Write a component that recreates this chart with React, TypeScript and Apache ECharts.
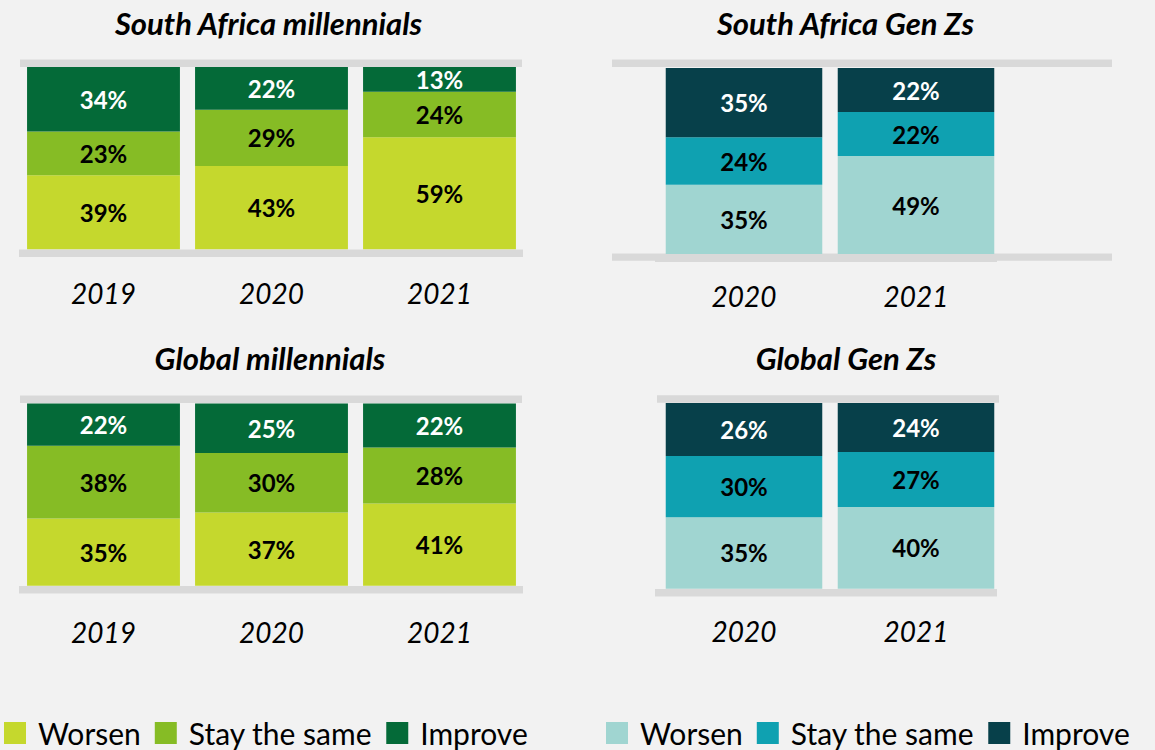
import React, { useEffect, useRef } from "react";
import * as echarts from "echarts";

// ---- Data ----
const YEARS_MILLENNIALS = ["2019", "2020", "2021"];
const YEARS_GENZ = ["2020", "2021"];

const SA_MIL_WORSEN = [39, 43, 59];
const SA_MIL_SAME = [23, 29, 24];
const SA_MIL_IMPROVE = [34, 22, 13];

const SA_GENZ_WORSEN = [35, 49];
const SA_GENZ_SAME = [24, 22];
const SA_GENZ_IMPROVE = [35, 22];

const GL_MIL_WORSEN = [35, 37, 41];
const GL_MIL_SAME = [38, 30, 28];
const GL_MIL_IMPROVE = [22, 25, 22];

const GL_GENZ_WORSEN = [35, 40];
const GL_GENZ_SAME = [30, 27];
const GL_GENZ_IMPROVE = [26, 24];

const SERIES_NAMES = ["Worsen", "Stay the same", "Improve"];
const PANEL_TITLES = [
  "South Africa millennials",
  "South Africa Gen Zs",
  "Global millennials",
  "Global Gen Zs",
];

// ---- Styling ----
const MIL_COLORS = ["#c5d82d", "#86bc25", "#046a38"];
const GENZ_COLORS = ["#a0d5d1", "#0fa1b1", "#07404a"];
const LABEL_COLORS = ["#000000", "#000000", "#ffffff"];
const BAND = "#d9d9d9";
const FONT = "Lato";

export default function App() {
  const ref = useRef<HTMLDivElement>(null);

  useEffect(() => {
    if (!ref.current) return;
    const chart = echarts.init(ref.current, null, { renderer: "svg" });

    const panels = [
      { cats: YEARS_MILLENNIALS, vals: [SA_MIL_WORSEN, SA_MIL_SAME, SA_MIL_IMPROVE], colors: MIL_COLORS },
      { cats: YEARS_GENZ, vals: [SA_GENZ_WORSEN, SA_GENZ_SAME, SA_GENZ_IMPROVE], colors: GENZ_COLORS },
      { cats: YEARS_MILLENNIALS, vals: [GL_MIL_WORSEN, GL_MIL_SAME, GL_MIL_IMPROVE], colors: MIL_COLORS },
      { cats: YEARS_GENZ, vals: [GL_GENZ_WORSEN, GL_GENZ_SAME, GL_GENZ_IMPROVE], colors: GENZ_COLORS },
    ];

    const grids = [
      { left: 19.5, width: 504, top: 67, height: 182.3 },
      { left: 658, width: 344, top: 68, height: 186 },
      { left: 19.5, width: 504, top: 403.5, height: 182.2 },
      { left: 658, width: 344, top: 403, height: 185.7 },
    ];
    const labelMargins = [30, 27.5, 32, 28.3];
    const titlePos = [
      { x: 268.5, y: 7 },
      { x: 845.5, y: 7 },
      { x: 270, y: 342 },
      { x: 846, y: 342 },
    ];

    const series: any[] = [];
    panels.forEach((p, pi) => {
      const totals = p.cats.map((_, ci) => p.vals.reduce((s, arr) => s + arr[ci], 0));
      p.vals.forEach((arr, si) => {
        series.push({
          type: "bar",
          name: SERIES_NAMES[si],
          xAxisIndex: pi,
          yAxisIndex: pi,
          stack: "panel" + pi,
          barWidth: "91%",
          itemStyle: { color: p.colors[si] },
          label: {
            show: true,
            position: "inside",
            fontFamily: FONT,
            fontWeight: "bold",
            fontSize: 24,
            color: LABEL_COLORS[si],
            formatter: (prm: any) => prm.data.raw + "%",
          },
          data: arr.map((v, ci) => ({ value: (v / totals[ci]) * 100, raw: v })),
        });
      });
    });

    const rect = (x: number, y: number, w: number, h: number) => ({
      type: "rect",
      shape: { x, y, width: w, height: h },
      style: { fill: BAND },
      silent: true,
    });

    const legendCommon = {
      orient: "horizontal",
      icon: "rect",
      itemWidth: 22,
      itemHeight: 22,
      itemGap: 14,
      padding: 0,
      selectedMode: false,
      textStyle: { fontFamily: FONT, fontSize: 30, color: "#000", padding: [0, 0, 0, 7] },
    };

    chart.setOption({
      animation: false,
      backgroundColor: "#f2f2f2",
      title: PANEL_TITLES.map((t, i) => ({
        text: t,
        left: titlePos[i].x,
        top: titlePos[i].y,
        textAlign: "center",
        padding: 0,
        textStyle: {
          fontFamily: FONT,
          fontSize: 31,
          fontWeight: "bold",
          fontStyle: "italic",
          color: "#000",
        },
      })),
      legend: [
        {
          ...legendCommon,
          left: 4,
          top: 718,
          data: SERIES_NAMES.map((n, i) => ({ name: n, itemStyle: { color: MIL_COLORS[i] } })),
        },
        {
          ...legendCommon,
          left: 606,
          top: 718,
          data: SERIES_NAMES.map((n, i) => ({ name: n, itemStyle: { color: GENZ_COLORS[i] } })),
        },
      ],
      grid: grids,
      xAxis: panels.map((p, i) => ({
        type: "category",
        gridIndex: i,
        data: p.cats,
        axisLine: { show: false },
        axisTick: { show: false },
        axisLabel: {
          margin: labelMargins[i],
          fontFamily: FONT,
          fontSize: 28,
          fontStyle: "italic",
          color: "#000",
        },
      })),
      yAxis: panels.map((_, i) => ({
        type: "value",
        gridIndex: i,
        min: 0,
        max: 100,
        show: false,
        splitLine: { show: false },
      })),
      graphic: [
        rect(20, 59.5, 502, 7.5),
        rect(19, 249.5, 504, 7.5),
        rect(612, 59.5, 500, 7.5),
        rect(612, 253.5, 500, 7.2),
        rect(655, 255, 342, 7),
        rect(20, 395.5, 502, 7.5),
        rect(19, 586, 504, 7.5),
        rect(657, 395.2, 342, 7.5),
        rect(655, 589, 342, 7.5),
      ],
      series,
    });

    return () => chart.dispose();
  }, []);

  return (
    <div
      ref={ref}
      style={{ position: "fixed", left: 0, top: 0, width: 1155, height: 750 }}
    />
  );
}
